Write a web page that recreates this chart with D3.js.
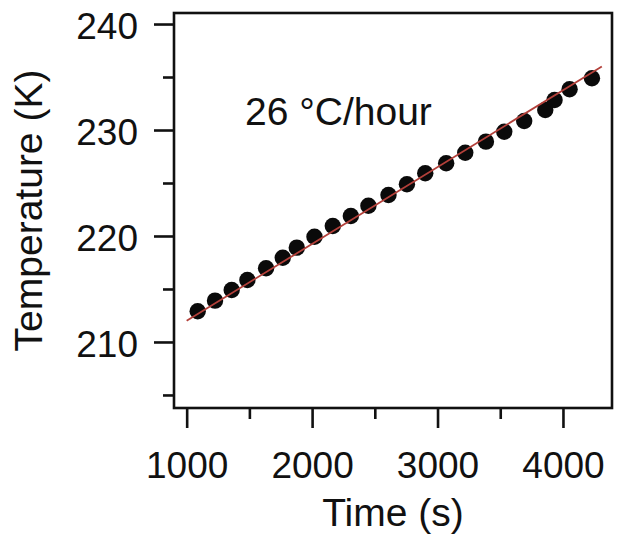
<!DOCTYPE html>
<html>
<head>
<meta charset="utf-8">
<script src="https://cdn.jsdelivr.net/npm/d3@7"></script>
<style>
  html, body { margin: 0; padding: 0; background: #fff; }
  svg { display: block; font-family: "Liberation Sans", Arial, sans-serif; }
</style>
</head>
<body>
<svg id="chart" width="617" height="537"></svg>
<script>
// ---- data ----
const timeS = [1088, 1226, 1359, 1484, 1633, 1766, 1878, 2019, 2165, 2309, 2449, 2609,
               2756, 2902, 3069, 3221, 3386, 3532, 3691, 3859, 3933, 4053, 4231];
const tempK = [212.9, 213.9, 214.9, 215.85, 216.95, 217.95, 218.9, 219.93, 220.94, 221.89,
               222.86, 223.87, 224.88, 225.92, 226.86, 227.86, 228.9, 229.84, 230.85,
               231.89, 232.83, 233.84, 234.88];
const fitLine = [{t: 1000, T: 212.0}, {t: 4310, T: 236.0}];
const xMajorTicks = [1000, 2000, 3000, 4000];
const xMinorTicks = [1500, 2500, 3500];
const yMajorTicks = [210, 220, 230, 240];
const yMinorTicks = [205, 215, 225, 235];
const annotation = {t: 1465, T: 230.5, text: "26 °C/hour"};
const xTitle = "Time (s)";
const yTitle = "Temperature (K)";

// ---- layout ----
const svg = d3.select("#chart");
const L = 174, R = 612, T = 13, B = 408;
const x = d3.scaleLinear().domain([899, 4391]).range([L, R]);
const y = d3.scaleLinear().domain([203.77, 241.04]).range([B, T]);

// frame
svg.append("rect")
  .attr("x", L).attr("y", T).attr("width", R - L).attr("height", B - T)
  .attr("fill", "none").attr("stroke", "#111").attr("stroke-width", 2.6);

// x axis
function styleAxis(g) {
  g.select(".domain").remove();
  g.selectAll(".tick line").attr("stroke", "#111").attr("stroke-width", 2.6);
}
const gxMaj = svg.append("g").attr("transform", `translate(0,${B + 1})`)
  .call(d3.axisBottom(x).tickValues(xMajorTicks).tickSize(19).tickFormat(d3.format("d")));
styleAxis(gxMaj);
gxMaj.selectAll(".tick text")
  .attr("y", 69).attr("dy", null)
  .attr("fill", "#111").style("font-size", "37px")
  .style("font-family", "Liberation Sans, Arial, sans-serif");
const gxMin = svg.append("g").attr("transform", `translate(0,${B + 1})`)
  .call(d3.axisBottom(x).tickValues(xMinorTicks).tickSize(10).tickFormat(""));
styleAxis(gxMin);

// y axis
const gyMaj = svg.append("g").attr("transform", `translate(${L - 1},0)`)
  .call(d3.axisLeft(y).tickValues(yMajorTicks).tickSize(19).tickPadding(16).tickFormat(d3.format("d")));
styleAxis(gyMaj);
gyMaj.selectAll(".tick text")
  .attr("dy", "0.38em")
  .attr("fill", "#111").style("font-size", "37px")
  .style("font-family", "Liberation Sans, Arial, sans-serif");
const gyMin = svg.append("g").attr("transform", `translate(${L - 1},0)`)
  .call(d3.axisLeft(y).tickValues(yMinorTicks).tickSize(10).tickFormat(""));
styleAxis(gyMin);

// axis titles
svg.append("text")
  .attr("x", (L + R) / 2).attr("y", 526)
  .attr("text-anchor", "middle").attr("fill", "#111")
  .style("font-size", "39px").text(xTitle);
svg.append("text")
  .attr("transform", `translate(42,${(T + B) / 2}) rotate(-90)`)
  .attr("text-anchor", "middle").attr("fill", "#111")
  .style("font-size", "39px").text(yTitle);

// points
const pts = timeS.map((t, i) => ({t, T: tempK[i]}));
svg.append("g").selectAll("circle").data(pts).join("circle")
  .attr("cx", d => x(d.t)).attr("cy", d => y(d.T)).attr("r", 8.2)
  .attr("fill", "#0a0a0a");

// fit line
svg.append("path")
  .datum(fitLine)
  .attr("d", d3.line().x(d => x(d.t)).y(d => y(d.T)))
  .attr("fill", "none").attr("stroke", "#b3403a").attr("stroke-width", 1.8);

// annotation
svg.append("text")
  .attr("x", x(annotation.t)).attr("y", y(annotation.T))
  .attr("fill", "#111").style("font-size", "39px").text(annotation.text);
</script>
</body>
</html>
